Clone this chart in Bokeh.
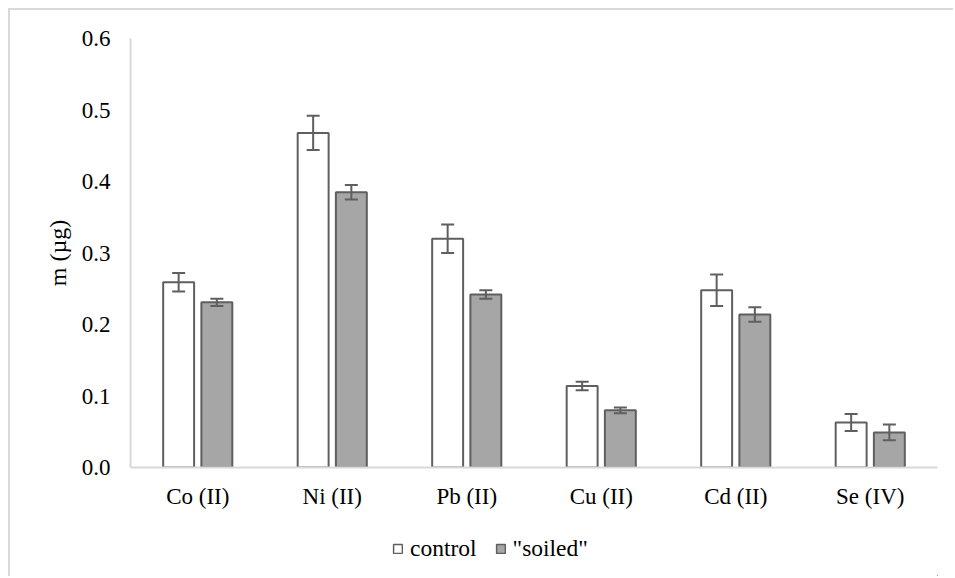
from bokeh.plotting import figure
from bokeh.layouts import column
from bokeh.models import (ColumnDataSource, Whisker, TeeHead, FixedTicker, NumeralTickFormatter,
                          Legend, LegendItem, FactorRange, Range1d)
from bokeh.transform import dodge
from bokeh.embed import file_html
from bokeh.resources import INLINE

categories = ["Co (II)", "Ni (II)", "Pb (II)", "Cu (II)", "Cd (II)", "Se (IV)"]
control = [0.259, 0.468, 0.320, 0.114, 0.248, 0.063]
control_err = [0.013, 0.024, 0.020, 0.006, 0.022, 0.012]
soiled = [0.231, 0.385, 0.242, 0.080, 0.214, 0.049]
soiled_err = [0.005, 0.010, 0.006, 0.004, 0.010, 0.011]
y_ticks = [0.0, 0.1, 0.2, 0.3, 0.4, 0.5, 0.6]
series_names = ["control", '"soiled"']

src = ColumnDataSource(dict(
    cat=categories,
    control=control,
    c_up=[v + e for v, e in zip(control, control_err)],
    c_lo=[v - e for v, e in zip(control, control_err)],
    soiled=soiled,
    s_up=[v + e for v, e in zip(soiled, soiled_err)],
    s_lo=[v - e for v, e in zip(soiled, soiled_err)],
))

FONT = "Liberation Serif"
EDGE = "#5f5f5f"
AXIS = "#d9d9d9"
FILLS = ["white", "#a6a6a6"]
COLS = ["control", "soiled"]

p = figure(x_range=FactorRange(*categories, range_padding=0), y_range=(0, 0.6),
           width=943, height=512, output_backend="svg", toolbar_location=None,
           min_border_left=120, min_border_top=28, min_border_right=16, min_border_bottom=55)
p.outline_line_color = None
p.xgrid.grid_line_color = None
p.ygrid.grid_line_color = None

OFF = 0.142
W = 0.23
for off, col, fill in zip([-OFF, OFF], COLS, FILLS):
    p.vbar(x=dodge("cat", off, range=p.x_range), top=col, width=W, source=src,
           fill_color=fill, line_color=EDGE, line_width=2)

for base, up, lo in [(-OFF, "c_up", "c_lo"), (OFF, "s_up", "s_lo")]:
    w = Whisker(base=dodge("cat", base, range=p.x_range), upper=up, lower=lo, source=src,
                line_color=EDGE, line_width=2, level="overlay",
                upper_head=TeeHead(size=13, line_color=EDGE, line_width=2),
                lower_head=TeeHead(size=13, line_color=EDGE, line_width=2))
    p.add_layout(w)

p.yaxis.ticker = FixedTicker(ticks=y_ticks)
p.yaxis.formatter = NumeralTickFormatter(format="0.0")
for ax in (p.xaxis[0], p.yaxis[0]):
    ax.axis_line_color = AXIS
    ax.axis_line_width = 2
    ax.major_tick_line_color = None
    ax.minor_tick_line_color = None
    ax.major_tick_out = 0
    ax.major_tick_in = 0
    ax.major_label_text_font = FONT
    ax.major_label_text_font_size = "23px"
    ax.major_label_text_color = "#000000"
p.yaxis.major_label_standoff = 20
p.xaxis.major_label_standoff = 16
p.yaxis.axis_label = "m (µg)"
p.yaxis.axis_label_text_font = FONT
p.yaxis.axis_label_text_font_size = "24px"
p.yaxis.axis_label_text_font_style = "normal"
p.yaxis.axis_label_text_color = "#000000"
p.yaxis.axis_label_standoff = 8

# legend strip: its bars are pushed far outside the strip's ranges, only the legend shows
lg = figure(width=943, height=54, output_backend="svg", toolbar_location=None,
            x_range=FactorRange(*categories, range_padding=0), y_range=Range1d(100, 101),
            x_axis_type=None, y_axis_type=None,
            min_border_left=0, min_border_right=0, min_border_top=0, min_border_bottom=0)
lg.outline_line_color = None
lg.xgrid.grid_line_color = None
lg.ygrid.grid_line_color = None
items = []
for name, col, fill in zip(series_names, COLS, FILLS):
    r = lg.vbar(x=dodge("cat", 100, range=lg.x_range), top=col, width=W, source=src,
                fill_color=fill, line_color=EDGE, line_width=1.5)
    items.append(LegendItem(label=name, renderers=[r]))
legend = Legend(items=items, orientation="horizontal", location=(262, 14))
legend.border_line_color = None
legend.background_fill_alpha = 0
legend.label_text_font = FONT
legend.label_text_font_size = "23.5px"
legend.label_text_color = "#000000"
legend.glyph_width = 11
legend.glyph_height = 11
legend.label_standoff = 7
legend.spacing = 18
legend.padding = 0
legend.margin = 0
lg.add_layout(legend, "center")

layout = column(p, lg, spacing=0)
layout.styles = {"border-top": "2px solid #d9d9d9", "border-left": "2px solid #d9d9d9",
                 "margin-left": "8px", "margin-top": "8px"}

open("out.html", "w").write(file_html(layout, INLINE))
